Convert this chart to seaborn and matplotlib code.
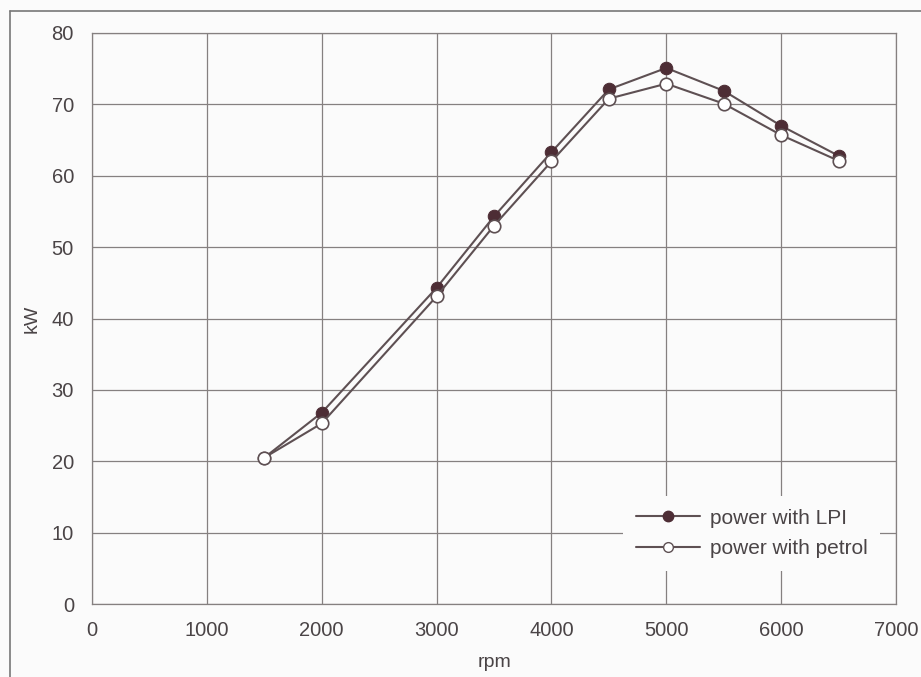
import matplotlib.pyplot as plt
import pandas as pd
import seaborn as sns
from matplotlib.lines import Line2D

rpm = [1500, 2000, 3000, 3500, 4000, 4500, 5000, 5500, 6000, 6500]
power_lpi = [20.5, 26.8, 44.3, 54.3, 63.3, 72.1, 75.1, 71.9, 67.0, 62.8]
power_petrol = [20.5, 25.3, 43.1, 53.0, 62.0, 70.8, 72.9, 70.1, 65.7, 62.1]

sns.set_style("white")
plt.rcParams['font.family'] = ['Liberation Sans', 'DejaVu Sans']

txt = "#4a4446"
line_col = "#5e5053"
dark = "#4d2d35"
grid_col = "#858080"

df = pd.DataFrame({'rpm': rpm, 'lpi': power_lpi, 'petrol': power_petrol})

fig = plt.figure(figsize=(9.21, 6.77), dpi=100, facecolor="#fbfbfb")
ax = fig.add_axes([92 / 921, 1 - 604 / 677, (896 - 92) / 921, (604 - 33) / 677])
ax.set_facecolor("#fbfbfb")

sns.lineplot(data=df, x='rpm', y='lpi', ax=ax, color=line_col, lw=1.5,
             marker='o', markersize=9, markerfacecolor=dark,
             markeredgecolor=dark, zorder=3)
sns.lineplot(data=df, x='rpm', y='petrol', ax=ax, color=line_col, lw=1.5,
             marker='o', markersize=9, markerfacecolor='white',
             markeredgecolor=line_col, markeredgewidth=1.2, zorder=4)

ax.set_xlim(0, 7000)
ax.set_ylim(0, 80)
ax.set_xticks(range(0, 7001, 1000))
ax.set_yticks(range(0, 81, 10))
ax.grid(True, color=grid_col, lw=0.9)
ax.set_axisbelow(True)
for s in ax.spines.values():
    s.set_color(grid_col)
    s.set_linewidth(0.9)
ax.tick_params(length=0, labelsize=14.5, colors=txt)
ax.tick_params(axis='x', pad=12)
ax.tick_params(axis='y', pad=13)
ax.set_xlabel('rpm', fontsize=14, color=txt, labelpad=10)
ax.set_ylabel('kW', fontsize=14, color=txt, labelpad=8)

handles = [
    Line2D([], [], color=line_col, lw=1.5, marker='o', markersize=7.5,
           markerfacecolor=dark, markeredgecolor=dark),
    Line2D([], [], color=line_col, lw=1.5, marker='o', markersize=7,
           markerfacecolor='white', markeredgecolor=line_col),
]
leg = ax.legend(handles, ['power with LPI', 'power with petrol'],
                loc='lower right', bbox_to_anchor=(0.993, 0.04),
                frameon=True, facecolor='#fbfbfb', edgecolor='none',
                framealpha=1, fontsize=15, handlelength=3.1,
                handletextpad=0.45, labelspacing=0.55, borderpad=0.6)
for t in leg.get_texts():
    t.set_color(txt)

# outer border of the scanned figure
fig.add_artist(Line2D([10 / 921, 10 / 921], [0, 1 - 11 / 677],
                      transform=fig.transFigure, color="#777", lw=1.2))
fig.add_artist(Line2D([10 / 921, 1], [1 - 11 / 677, 1 - 11 / 677],
                      transform=fig.transFigure, color="#777", lw=1.2))

fig.savefig('out.png', dpi=100, facecolor=fig.get_facecolor())
